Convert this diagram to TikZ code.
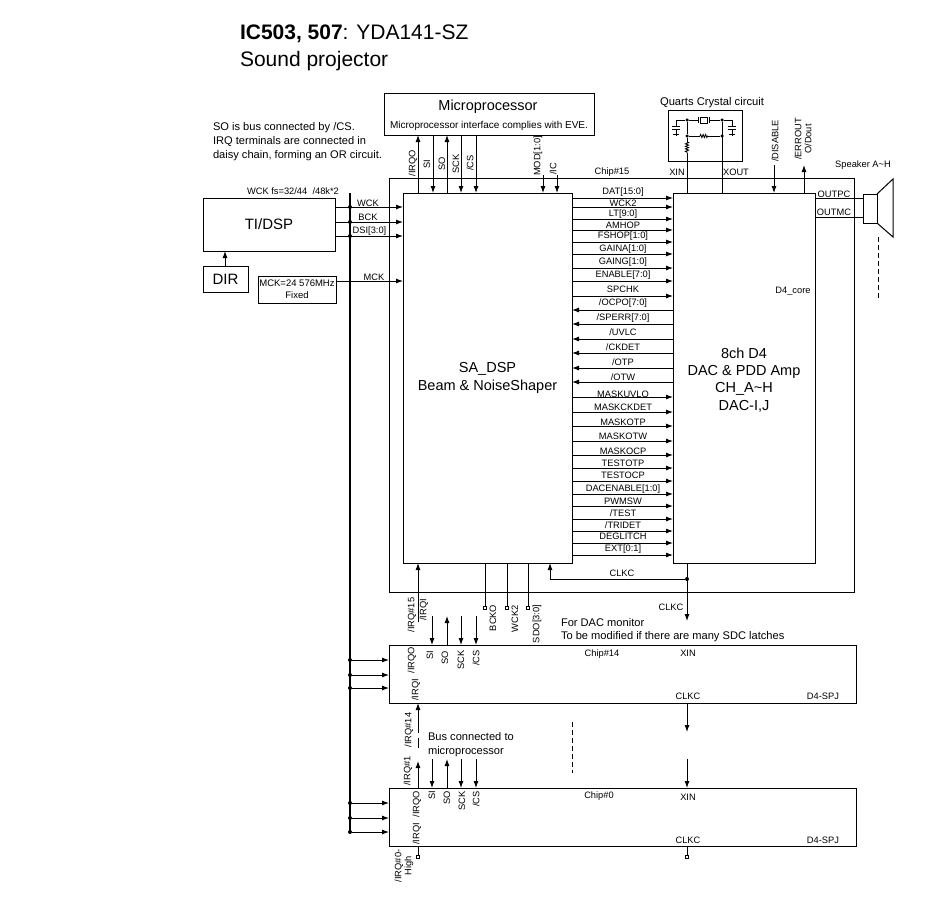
\documentclass[tikz,border=0pt]{standalone}
\usepackage{fontspec}
\setmainfont{Liberation Sans}
\usetikzlibrary{arrows.meta,decorations.pathmorphing}
\newcommand{\sz}[1]{\fontsize{#1}{#1}\selectfont}
\tikzset{
            box/.style={draw,line width=1pt,align=center},
            bigbox/.style={align=center,font=\fontsize{14.5}{17.2}\selectfont},
            sig/.style={font=\sz{9.3}},
            sigv/.style={sig,rotate=90},
            note/.style={font=\sz{11.1},anchor=west},
            pin/.style={draw,line width=0.9pt,minimum size=3.5pt},
            dot/.style={circle,fill=black,minimum size=4pt}
        }

\begin{document}
\begin{tikzpicture}[
                    x=1pt,y=-1pt,
                    every node/.style={inner sep=0pt,outer sep=0pt},
                    >={Latex[length=7pt,width=5pt]},
                    line width=0.9pt
                    ]
    \useasboundingbox (0,0) rectangle (937,897);

    \node[anchor=base west,font=\sz{21}] (title) at (240,39) {\textbf{IC503, 507}: YDA141-SZ};
    \node[anchor=base west,font=\sz{21}] (subtitle) at (240,66) {Sound projector};

    \node[box,minimum width=465pt,minimum height=414pt] (chipA) at (621.5,385) {};
    \node[box,bigbox,minimum width=169pt,minimum height=370pt] (sadsp) at (487.5,378) {SA\_DSP\\Beam \& NoiseShaper};
    \node[box,minimum width=142pt,minimum height=370pt] (core) at (744,378) {};
    \node[bigbox] (corelab) at (744,380) {8ch D4\\DAC \& PDD Amp\\CH\_A\textasciitilde H\\DAC-I,J};
    \node[box,minimum width=467pt,minimum height=58pt] (chipB) at (622.5,674) {};
    \node[box,minimum width=467pt,minimum height=58pt] (chipC) at (622.5,817) {};

    \node[box,minimum width=210pt,minimum height=42pt] (mcu) at (489,114) {};
    \node[font=\sz{14.5}] (mcutxt) at (488,107) {Microprocessor};
    \node[font=\sz{10}] (mcusub) at (489,126) {Microprocessor interface complies with EVE.};
    \node[box,minimum width=132pt,minimum height=53pt,font=\sz{15}] (tidsp) at (269,224.5) {TI/DSP};
    \node[box,minimum width=45pt,minimum height=26pt,font=\sz{15}] (dir) at (225.5,279) {DIR};
    \node[box,minimum width=78pt,minimum height=27pt,font=\fontsize{9.5}{12}\selectfont] (mck) at (297,289.5) {MCK=24 576MHz\\Fixed};
    \node[box,minimum width=74pt,minimum height=51pt] (quartz) at (705,135.5) {};
    \node[box,minimum width=14pt,minimum height=29pt] (spk) at (870,208.5) {};
    \draw[line width=1pt] (spk.north east) -- (893,179) -- (893,237) -- (spk.south east);

    \node[note] (n1) at (213,128) {SO is bus connected by /CS.};
    \node[note] (n2) at (213,142) {IRQ terminals are connected in};
    \node[note] (n3) at (213,156) {daisy chain, forming an OR circuit.};
    \node[note] (n4) at (561,623) {For DAC monitor};
    \node[note] (n5) at (561,637) {To be modified if there are many SDC latches};
    \node[note] (n6) at (428,737) {Bus connected to};
    \node[note] (n7) at (428,752) {microprocessor};
    \node[sig] (wckfs) at (293,191) {WCK fs=32/44 \ /48k*2};
    \node[font=\sz{11.2}] (qtxt) at (712,103) {Quarts Crystal circuit};
    \node[sig] (spktxt) at (863,165) {Speaker A\textasciitilde H};

    %% microprocessor bus
    \foreach \x in {433,461,476}
        \draw[->] (mcu.south -| \x,0) -- (sadsp.north -| \x,0);
    \foreach \x in {418,447}
        \draw[->] (sadsp.north -| \x,0) -- (mcu.south -| \x,0);
    \foreach \x in {543,557}
        \draw[->] (\x,175) coordinate (top\x) -- (top\x |- sadsp.north);
    \foreach \x/\y/\txt in {413/163/{/IRQO},427/164/SI,442/164/SO,456/164/SCK,470/163/{/CS},538/156/{MOD[1:0]},553/169/{/IC}}
        \node[sigv] (up\x) at (\x,\y) {\txt};

    %% left side
    \draw[line width=1.4pt] (350,193) coordinate (busT) -- (350,832) coordinate (busB);
    \foreach \y/\lx/\ly/\txt in {207/368/203/WCK,222/368/217/BCK,236/369.5/231/{DSI[3:0]}}{
        \draw[->] (tidsp.east |- 0,\y) -- (sadsp.west |- 0,\y);
        \node[dot] (d\y) at (busT |- 0,\y) {};
        \node[sig] (l\y) at (\lx,\ly) {\txt};
    }
    \draw[->] (mck.east |- 0,281) -- (sadsp.west |- 0,281);
    \node[sig] (l281) at (374,277) {MCK};
    \draw[->] (dir.north -| 225,0) -- (tidsp.south -| 225,0);
    \foreach \y in {660,675,688,803,818,832}{
        \node[dot] (d\y) at (busT |- 0,\y) {};
        \draw[->] (d\y) -- (chipB.west |- 0,\y);
    }

    %% signals DSP to core
    \foreach \y/\ly/\txt in {198/192/{DAT[15:0]},207/203/WCK2,219/214/{LT[9:0]},230/225/AMHOP,242/236/{FSHOP[1:0]},254/249/{GAINA[1:0]},268/262/{GAING[1:0]},281/275/{ENABLE[7:0]},296/289/SPCHK,397/394/MASKUVLO,412/407/MASKCKDET,426/422/MASKOTP,441/436/MASKOTW,455/451/MASKOCP,468/463/TESTOTP,481/475/TESTOCP,494/489/{DACENABLE[1:0]},506/501/PWMSW,519/513/{/TEST},531/525/{/TRIDET},543/536/DEGLITCH,555/549/{EXT[0:1]}}{
        \draw[->] (sadsp.east |- 0,\y) -- (core.west |- 0,\y);
        \node[sig] (s\y) at (623,\ly) {\txt};
    }
    \foreach \y/\ly/\txt in {310/303/{/OCPO[7:0]},324/318/{/SPERR[7:0]},339/332/{/UVLC},353/347/{/CKDET},368/362/{/OTP},382/377/{/OTW}}{
        \draw[->] (core.west |- 0,\y) -- (sadsp.east |- 0,\y);
        \node[sig] (s\y) at (623,\ly) {\txt};
    }

    %% crystal circuit
    \node[dot,minimum size=3.5pt] (qa) at (687,120) {};
    \node[dot,minimum size=3.5pt] (qb) at (722,120) {};
    \node[dot,minimum size=3.5pt] (qc) at (687,136) {};
    \node[dot,minimum size=3.5pt] (qd) at (722,136) {};
    \node[draw,line width=0.8pt,minimum width=7pt,minimum height=6pt] (xtal) at (703.5,120) {};
    \draw (qa) -- (698,120) (698,117) -- (698,123) (709,117) -- (709,123) (709,120) -- (qb);
    \draw (qa) -- (qc) (qc) -- (700,136);
    \draw[decorate,decoration={zigzag,segment length=2.5pt,amplitude=1.5pt}] (700,136) -- (708,136);
    \draw (708,136) -- (qd);
    \draw (qc) -- (687,142);
    \draw[decorate,decoration={zigzag,segment length=2.5pt,amplitude=1.5pt}] (687,142) -- (687,153);
    \draw (687,153) -- (core.north -| 687,0);
    \draw (qb) -- (core.north -| 722,0);
    \foreach \x in {676,732}{
        \draw (\x,120) -- (\x,126) (\x-4,126) -- (\x+4,126) (\x-4,129) -- (\x+4,129) (\x,129) -- (\x,136) (\x-3,134) -- (\x+3,134);
    }
    \draw (676,120) -- (qa) (732,120) -- (qb);
    \node[sig] (xin) at (677,172) {XIN};
    \node[sig] (xout) at (736,172) {XOUT};
    \node[sig] (chipAtxt) at (612,172) {Chip\#15};

    %% right side
    \draw[->] (774,165) coordinate (dis) -- (dis |- core.north);
    \draw[->] (core.north -| 804,0) -- (804,165);
    \node[sigv] (distxt) at (775,141) {/DISABLE};
    \node[sigv] (errtxt) at (798,139) {/ERROUT};
    \node[sigv] (odtxt) at (808,139) {O/Dout};
    \draw (core.east |- 0,198) -- (spk.west |- 0,198);
    \draw (core.east |- 0,217) -- (spk.west |- 0,217);
    \node[sig] (outp) at (834,194) {OUTPC};
    \node[sig] (outm) at (834,212) {OUTMC};
    \draw[dashed,dash pattern=on 5pt off 3pt] (878,237) coordinate (da) -- (878,300) coordinate (db);
    \node[sig] (coretxt) at (793,291) {D4\_core};

    %% below chip 15
    \draw[->] (418,622) coordinate (irq) -- (irq |- sadsp.south);
    \node[sigv] (irqa) at (412,615) {/IRQ\#15};
    \node[sigv] (irqb) at (424,610) {/IRQI};
    \foreach \x/\lx/\ly/\txt in {485/493/618/BCKO,507/515/619/WCK2,528/537/624/{SDO[3:0]}}{
        \node[pin] (p\x) at (\x,608) {};
        \draw (sadsp.south -| \x,0) -- (p\x);
        \node[sigv] (pl\x) at (\lx,\ly) {\txt};
    }
    \node[dot] (clkdot) at (687,579) {};
    \draw[->] (core.south -| 687,0) -- (687,621);
    \draw[->] (clkdot) -- (550,579) -- (sadsp.south -| 550,0);
    \node[sig] (clk1) at (622,573) {CLKC};
    \node[sig] (clk2) at (671,607) {CLKC};

    %% chip 14 and chip 0
    \foreach \c/\ytop in {chipB/616,chipC/759}{
        \foreach \x in {432,461,476}
            \draw[->] (\x,\ytop) coordinate (t\x) -- (t\x |- \c.north);
        \draw[->] (\c.north -| 447,0) -- (447,\ytop);
    }
    \node[sigv] (b1) at (412,660) {/IRQO};
    \node[sigv] (b2) at (430,655) {SI};
    \node[sigv] (b3) at (445,658) {SO};
    \node[sigv] (b4) at (461,660) {SCK};
    \node[sigv] (b5) at (476,658) {/CS};
    \node[sigv] (b6) at (416,690) {/IRQI};
    \node[sig] (b7) at (602,654) {Chip\#14};
    \node[sig] (b8) at (688,653) {XIN};
    \node[sig] (b9) at (688,696) {CLKC};
    \node[sig] (b10) at (823,696) {D4-SPJ};

    \node[sigv] (c1) at (417,804) {/IRQO};
    \node[sigv] (c2) at (432,795) {SI};
    \node[sigv] (c3) at (447,798) {SO};
    \node[sigv] (c4) at (462,801) {SCK};
    \node[sigv] (c5) at (476,799) {/CS};
    \node[sigv] (c6) at (417,834) {/IRQI};
    \node[sig] (c7) at (599,796) {Chip\#0};
    \node[sig] (c8) at (688,797) {XIN};
    \node[sig] (c9) at (688,840) {CLKC};
    \node[sig] (c10) at (823,840) {D4-SPJ};

    %% links between chips
    \draw[->] (418,733) coordinate (irq2) -- (irq2 |- chipB.south);
    \draw (418,738) -- (418,748);
    \draw[->] (chipC.north -| 418,0) -- (418,761);
    \node[sigv] (irq14) at (409,730) {/IRQ\#14};
    \node[sigv] (irq1) at (408,771) {/IRQ\#1};
    \draw[->] (chipB.south -| 687,0) -- (687,732);
    \draw[->] (687,759) coordinate (tk) -- (tk |- chipC.north);
    \draw[dashed,dash pattern=on 5pt off 3pt] (572,722) coordinate (dc) -- (572,773) coordinate (dd);

    %% bottom pins
    \foreach \x in {418,687}{
        \node[pin] (e\x) at (\x,857) {};
        \draw (chipC.south -| \x,0) -- (e\x);
    }
    \node[sigv] (irq0a) at (399,866) {/IRQ\#0-};
    \node[sigv] (irq0b) at (409,866) {High};
\end{tikzpicture}
\end{document}
